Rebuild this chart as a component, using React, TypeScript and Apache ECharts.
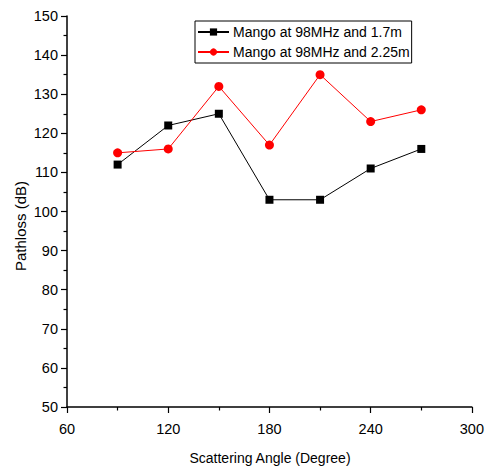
import React, { useEffect, useRef } from "react";
import * as echarts from "echarts";

const angles = [90, 120, 150, 180, 210, 240, 270];
const series17 = [112, 122, 125, 103, 103, 111, 116];
const series225 = [115, 116, 132, 117, 135, 123, 126];
const seriesNames = ["Mango at 98MHz and 1.7m", "Mango at 98MHz and 2.25m"];
const xTitle = "Scattering Angle (Degree)";
const yTitle = "Pathloss (dB)";

const FONT = "'Liberation Sans', Arial, Helvetica, sans-serif";

export default function App() {
  const ref = useRef<HTMLDivElement>(null);
  useEffect(() => {
    if (!ref.current) return;
    const chart = echarts.init(ref.current, undefined, { renderer: "svg" });
    const axisCommon = {
      axisLine: { show: true, onZero: false, lineStyle: { color: "#000", width: 1.5 } },
      axisTick: { show: true, inside: false, length: 6, lineStyle: { color: "#000", width: 1.2 } },
      minorTick: { show: true, splitNumber: 2, length: 3.5, lineStyle: { color: "#000", width: 1.2 } },
      splitLine: { show: false },
      axisLabel: { color: "#000", fontFamily: FONT, fontSize: 14.5 },
    };
    chart.setOption({
      animation: false,
      backgroundColor: "#fff",
      textStyle: { fontFamily: FONT },
      grid: { left: 67, right: 15, top: 16, bottom: 63, containLabel: false },
      xAxis: {
        type: "value",
        min: 60,
        max: 300,
        interval: 60,
        ...axisCommon,
        axisLabel: { ...axisCommon.axisLabel, margin: 14 },
      },
      yAxis: {
        type: "value",
        min: 50,
        max: 150,
        interval: 10,
        ...axisCommon,
        axisLabel: { ...axisCommon.axisLabel, margin: 9 },
      },
      legend: {
        show: true,
        orient: "vertical",
        left: 195,
        top: 21,
        borderColor: "#000",
        borderWidth: 1,
        padding: [4, 2, 4, 2],
        itemGap: 6,
        itemWidth: 31,
        itemHeight: 9,
        textStyle: { color: "#000", fontFamily: FONT, fontSize: 14, padding: [0, 0, 0, -1] },
        data: seriesNames,
      },
      series: [
        {
          name: seriesNames[0],
          type: "line",
          data: angles.map((a, i) => [a, series17[i]]),
          symbol: "rect",
          symbolSize: 8,
          itemStyle: { color: "#000" },
          lineStyle: { color: "#000", width: 1 },
        },
        {
          name: seriesNames[1],
          type: "line",
          data: angles.map((a, i) => [a, series225[i]]),
          symbol: "circle",
          symbolSize: 9,
          itemStyle: { color: "#ff0000" },
          lineStyle: { color: "#ff0000", width: 1 },
        },
      ],
      graphic: [
        {
          type: "text",
          x: 270,
          y: 458,
          style: {
            text: xTitle,
            fill: "#000",
            font: `14px ${FONT}`,
            align: "center",
            verticalAlign: "middle",
          },
        },
        {
          type: "text",
          x: 20,
          y: 226,
          rotation: Math.PI / 2,
          style: {
            text: yTitle,
            fill: "#000",
            font: `15px ${FONT}`,
            align: "center",
            verticalAlign: "middle",
          },
        },
      ],
    });
    return () => chart.dispose();
  }, []);
  return <div ref={ref} style={{ width: 487, height: 470, position: "absolute", left: 0, top: 0 }} />;
}
